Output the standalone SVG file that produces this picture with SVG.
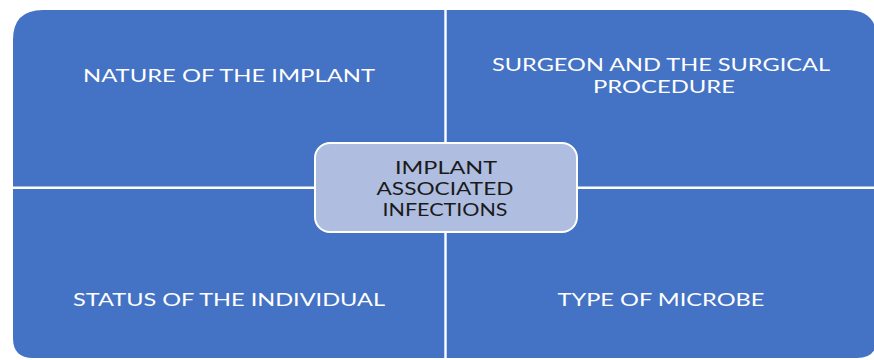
<svg xmlns="http://www.w3.org/2000/svg" width="874" height="360" viewBox="0 0 874 360">
<style>
.q{fill:#4472C4;}
.qt{font-family:Lato,"Open Sans","Liberation Sans",sans-serif;font-size:18px;fill:#FFFFFF;text-anchor:middle;}
.ct{font-family:Lato,"Open Sans","Liberation Sans",sans-serif;font-size:17.5px;fill:#1A1A1A;text-anchor:middle;}
</style>
<rect width="874" height="360" fill="#FFFFFF"/>
<g id="node-tl">
<path class="q" d="M13,40 Q13,10 43,10 L444.3,10 L444.3,186.5 L13,186.5 Z"/>
<text class="qt" x="229" y="82" textLength="292" lengthAdjust="spacingAndGlyphs">NATURE OF THE IMPLANT</text>
</g>
<g id="node-tr">
<path class="q" d="M446.7,10 L847,10 Q877,10 877,40 L877,186.5 L446.7,186.5 Z"/>
<text class="qt" x="661" y="71" textLength="338" lengthAdjust="spacingAndGlyphs">SURGEON AND THE SURGICAL</text>
<text class="qt" x="664" y="93" textLength="142" lengthAdjust="spacingAndGlyphs">PROCEDURE</text>
</g>
<g id="node-bl">
<path class="q" d="M13,189 L444.3,189 L444.3,358 L33,358 Q13,358 13,338 Z"/>
<text class="qt" x="229" y="306" textLength="312" lengthAdjust="spacingAndGlyphs">STATUS OF THE INDIVIDUAL</text>
</g>
<g id="node-br">
<path class="q" d="M446.7,189 L877,189 L877,338 Q877,358 857,358 L446.7,358 Z"/>
<text class="qt" x="661" y="306" textLength="207" lengthAdjust="spacingAndGlyphs">TYPE OF MICROBE</text>
</g>
<g id="connectors"></g>
<g id="node-center">
<rect x="315" y="143" width="262" height="89" rx="15" ry="15" fill="#AFBDE0" stroke="#FFFFFF" stroke-width="2"/>
<text class="ct" x="446" y="174" textLength="102" lengthAdjust="spacingAndGlyphs">IMPLANT</text>
<text class="ct" x="445" y="195" textLength="137" lengthAdjust="spacingAndGlyphs">ASSOCIATED</text>
<text class="ct" x="445" y="216" textLength="125" lengthAdjust="spacingAndGlyphs">INFECTIONS</text>
</g>
</svg>
